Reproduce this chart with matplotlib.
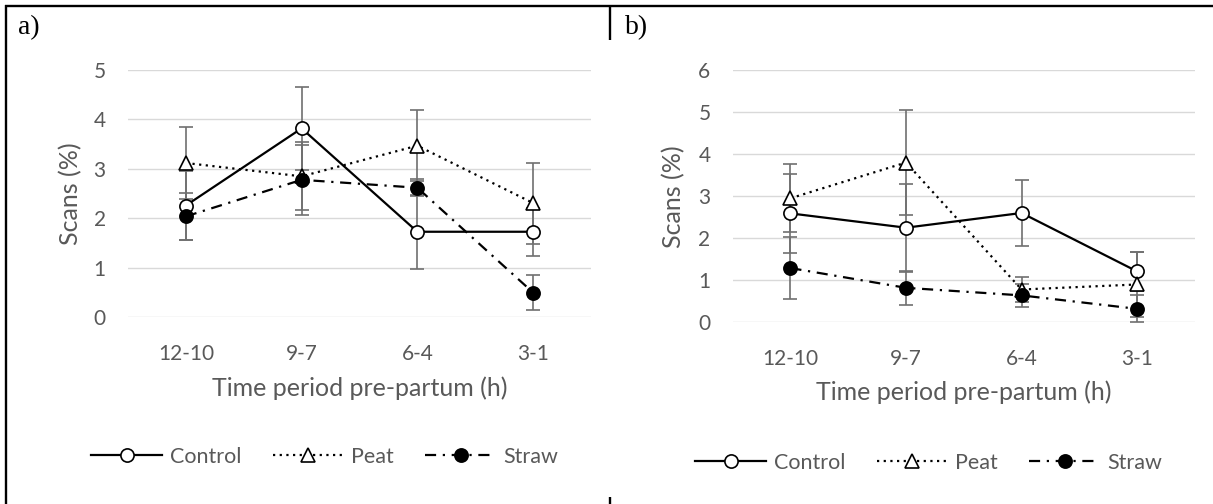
import matplotlib.pyplot as plt
from matplotlib.lines import Line2D
import numpy as np

# data
perioder = ["12-10", "9-7", "6-4", "3-1"]

a_control = [2.26, 3.82, 1.73, 1.73]
a_control_fel = [0.69, 0.84, 0.75, 0.49]
a_peat = [3.12, 2.85, 3.47, 2.31]
a_peat_fel = [0.72, 0.69, 0.72, 0.82]
a_straw = [2.04, 2.78, 2.62, 0.50]
a_straw_fel = [0.48, 0.71, 0.17, 0.35]

b_control = [2.59, 2.25, 2.60, 1.21]
b_control_fel = [0.93, 1.05, 0.78, 0.47]
b_peat = [2.95, 3.80, 0.78, 0.90]
b_peat_fel = [0.81, 1.25, 0.29, 0.78]
b_straw = [1.29, 0.82, 0.64, 0.32]
b_straw_fel = [0.73, 0.41, 0.27, 0.32]

gra = "#595959"
plt.rcParams["font.family"] = ["Lato", "DejaVu Sans"]
plt.rcParams["font.size"] = 14.5

fig = plt.figure(figsize=(12.13, 5.04), dpi=100)

def panel(rect, serier, ymax, xlabpos, ylabpos, legpos):
	ax = fig.add_axes(rect)
	x = np.arange(len(perioder))
	stilar = [
		("Control", "-", "o", "white"),
		("Peat", (0, (1, 2)), "^", "white"),
		("Straw", (0, (5, 3, 1, 3)), "o", "black"),
	]
	handtag = []
	for (namn, ls, mk, fc), (y, fel) in zip(stilar, serier):
		ax.errorbar(x, y, yerr=fel, fmt="none", ecolor="#707070", elinewidth=1.2,
			capsize=5, capthick=1.2, zorder=2)
		h, = ax.plot(x, y, color="black", lw=1.6, ls=ls, marker=mk, ms=9.5,
			mfc=fc, mec="black", mew=1.2, zorder=3, label=namn)
		handtag.append(h)
	ax.set_xlim(-0.5, len(perioder) - 0.5)
	ax.set_ylim(0, ymax)
	ax.set_yticks(range(0, ymax + 1))
	ax.set_xticks(x)
	ax.set_xticklabels(perioder)
	ax.grid(axis="y", color="#d9d9d9", lw=1.0)
	ax.set_axisbelow(True)
	for s in ax.spines.values():
		s.set_visible(False)
	ax.tick_params(length=0, colors=gra, labelsize=15)
	ax.tick_params(axis="y", pad=16)
	ax.tick_params(axis="x", pad=19)
	ax.set_xlabel("Time period pre-partum (h)", color=gra, fontsize=18)
	ax.xaxis.label.set_va("center")
	ax.xaxis.set_label_coords(*xlabpos)
	ax.set_ylabel("Scans (%)", color=gra, fontsize=18)
	ax.yaxis.label.set_va("center")
	ax.yaxis.set_label_coords(*ylabpos)
	ax.legend(handles=handtag, loc="center", bbox_to_anchor=legpos,
		bbox_transform=fig.transFigure, ncol=3, frameon=False, numpoints=1,
		handlelength=3.3, handletextpad=0.35, columnspacing=1.45,
		labelcolor=gra, fontsize=15.5)
	return ax

panel([0.1055, 0.3704, 0.3817, 0.4907],
	[(a_control, a_control_fel), (a_peat, a_peat_fel), (a_straw, a_straw_fel)],
	5, (0.501, -0.286), (-0.123, 0.5), (325 / 1213, 1 - 457 / 504))
panel([0.604, 0.3605, 0.3811, 0.5006],
	[(b_control, b_control_fel), (b_peat, b_peat_fel), (b_straw, b_straw_fel)],
	6, (0.5, -0.276), (-0.127, 0.497), (929 / 1213, 1 - 463 / 504))

# table borders
W, H = 1213, 504
def linje(x0, y0, x1, y1):
	fig.add_artist(Line2D([x0 / W, x1 / W], [1 - y0 / H, 1 - y1 / H],
		color="black", lw=1.7, solid_capstyle="butt"))
linje(5, 6.2, W, 6.2)
linje(6.2, 5, 6.2, H)
linje(610, 5, 610, 39.5)
linje(610, 497, 610, H)

fig.text(18 / W, 1 - 28 / H, "a)", family="Liberation Serif", fontsize=20, va="center")
fig.text(625 / W, 1 - 28 / H, "b)", family="Liberation Serif", fontsize=20, va="center")

plt.savefig("out.png", dpi=100)
